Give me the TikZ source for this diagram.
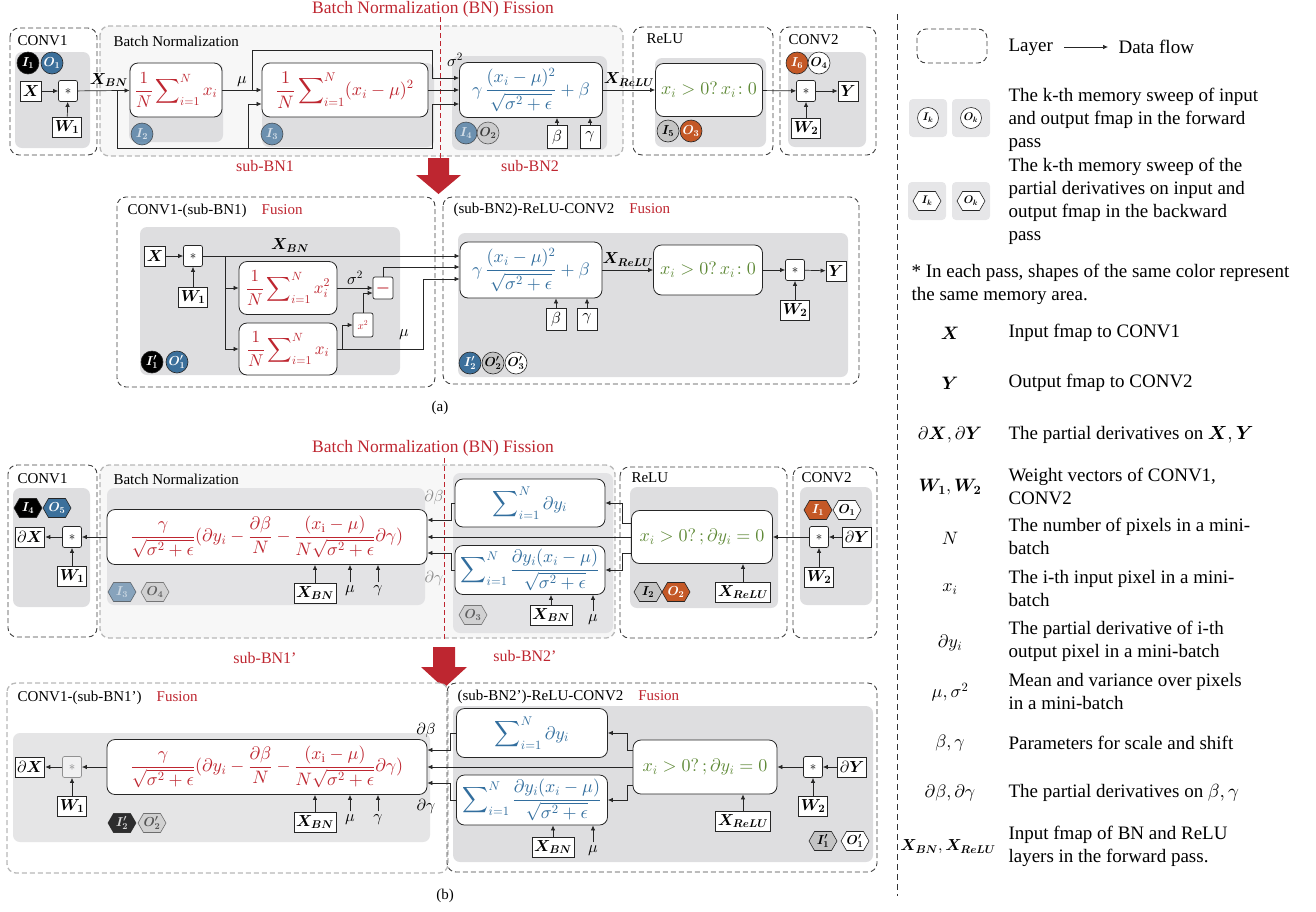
\documentclass[tikz,border=0pt]{standalone}
\usepackage{amsmath}
\usepackage{bm}
\usepackage{fontspec}
\setmainfont{Liberation Serif}
\DeclareFontShape{OML}{cmm}{m}{it}{<->cmmi10}{}
\DeclareFontShape{OML}{cmm}{b}{it}{<->cmmib10}{}
\DeclareFontShape{OMS}{cmsy}{m}{n}{<->cmsy10}{}
\DeclareFontShape{OMS}{cmsy}{b}{n}{<->cmbsy10}{}
\DeclareFontShape{OMX}{cmex}{m}{n}{<->cmex10}{}
\DeclareFontShape{OT1}{cmr}{m}{n}{<->cmr10}{}
\DeclareFontShape{OT1}{cmr}{bx}{n}{<->cmbx10}{}
\usepackage{tikz}
\usetikzlibrary{positioning,arrows.meta,calc,shapes.symbols}
\definecolor{FisRed}{RGB}{190,38,48}
\definecolor{EqBlue}{RGB}{50,110,158}
\definecolor{EqGreen}{RGB}{96,138,56}
\definecolor{MemBlue}{RGB}{60,112,155}
\definecolor{MemOrange}{RGB}{196,88,38}
\definecolor{MemGray}{RGB}{196,196,196}
\definecolor{PanelGray}{RGB}{222,222,224}

\begin{document}
\begin{tikzpicture}[
  x=1pt,y=-1pt,
  font=\fontsize{15}{17}\selectfont,
  layerbox/.style={draw=black!75,line width=0.9pt,dash pattern=on 5pt off 3pt,rounded corners=9pt},
  fadelayer/.style={draw=black!28,fill=black!3,line width=1.3pt,dash pattern=on 5pt off 3pt,rounded corners=9pt},
  panel/.style={fill=PanelGray,rounded corners=7pt},
  eqbox/.style={draw=black!85,fill=white,line width=0.8pt,rounded corners=8pt,inner sep=1pt,font=\fontsize{18}{21}\selectfont},
  opbox/.style={draw=black!85,fill=white,line width=0.7pt,rounded corners=2pt,minimum width=19pt,minimum height=21pt,inner sep=0pt,font=\fontsize{13}{15}\selectfont},
  varbox/.style={draw=black!85,fill=white,line width=0.8pt,inner sep=2pt,minimum height=20pt,minimum width=20pt,font=\fontsize{16}{18}\selectfont},
  arr/.style={-{Latex[length=5pt,width=4.5pt]},line width=0.7pt,draw=black!85},
  mem/.style={circle,draw=black!85,line width=0.6pt,minimum size=22pt,inner sep=0pt,font=\fontsize{13}{15}\selectfont},
  hexmem/.style={signal,signal to=east and west,signal pointer angle=120,draw=black!85,line width=0.6pt,minimum width=28pt,minimum height=19pt,inner sep=0pt,font=\fontsize{13}{15}\selectfont},
  fislabel/.style={text=FisRed,font=\fontsize{17.5}{20}\selectfont},
  sublabel/.style={text=FisRed,font=\fontsize{16}{18}\selectfont},
  lbl/.style={font=\fontsize{16}{18}\selectfont},
  lgtext/.style={anchor=west,align=left,font=\fontsize{19}{23}\selectfont},
  lgsym/.style={font=\fontsize{18}{23}\selectfont}
]
\useasboundingbox (0,0) rectangle (1316,911);

% (a) forward pass
\node[fislabel] (fisa) at (433,9) {Batch Normalization (BN) Fission};
\draw[fadelayer] (100,26) rectangle (623,156);
\node[anchor=west] (bna) at (110,41) {Batch Normalization};
\path[panel] (129,63) rectangle (223,142);
\path[panel] (262,63) rectangle (434,147);
\path[panel] (452,56) rectangle (607,150);
\draw[FisRed,line width=0.9pt,dash pattern=on 5pt off 3pt] (440,17) -- (440,160);

\draw[layerbox] (10,28) rectangle (97,155);
\node[anchor=west] (conv1a) at (14,41) {CONV1};
\path[panel] (15,52) rectangle (90,148);
\node[mem,fill=black,text=white] (i1a) at (28,63) {$\bm{I_1}$};
\node[mem,fill=MemBlue,text=white] (o1a) at (52,63) {$\bm{O_1}$};
\node[varbox] (xa) at (31,91) {$\bm{X}$};
\node[opbox] (mula) at (68,91) {$*$};
\node[varbox] (w1a) at (67,127) {$\bm{W_1}$};

\node[eqbox,text=FisRed,minimum width=92pt,minimum height=54pt,font=\fontsize{17}{20}\selectfont] (meana) at (176,90) {$\displaystyle\frac{1}{N}\sum\nolimits_{i=1}^{N}x_i$};
\node[eqbox,text=FisRed,minimum width=166pt,minimum height=54pt] (vara) at (345,90) {$\displaystyle\frac{1}{N}\sum\nolimits_{i=1}^{N}(x_i-\mu)^2$};
\node[eqbox,text=EqBlue,minimum width=143pt,minimum height=55pt] (norma) at (531,90) {$\displaystyle\gamma\,\frac{(x_i-\mu)^2}{\sqrt{\sigma^2+\epsilon}}+\beta$};
\node[mem,fill=MemBlue,text=white,opacity=0.7] (i2a) at (142,134) {$\bm{I_2}$};
\node[mem,fill=MemBlue,text=white,opacity=0.7] (i3a) at (272,134) {$\bm{I_3}$};
\node[mem,fill=MemBlue,text=white,opacity=0.7] (i4a) at (466,133) {$\bm{I_4}$};
\node[mem,fill=MemGray,opacity=0.7] (o2a) at (488,133) {$\bm{O_2}$};
\node[varbox,minimum height=23pt] (betaa) at (557,137) {$\beta$};
\node[varbox,minimum height=23pt] (gama) at (590,137) {$\gamma$};

\draw[layerbox] (633,27) rectangle (773,155);
\node[anchor=west] (relulaba) at (643,39) {ReLU};
\path[panel] (655,58) rectangle (766,147);
\node[eqbox,text=EqGreen,minimum width=107pt,minimum height=53pt] (relua) at (709,90) {$x_i>0?\,x_i\!:0$};
\node[mem,fill=MemGray] (i5a) at (668,131) {$\bm{I_5}$};
\node[mem,fill=MemOrange,text=white] (o3a) at (691,131) {$\bm{O_3}$};

\draw[layerbox] (780,27) rectangle (876,155);
\node[anchor=west] (conv2a) at (785,40) {CONV2};
\path[panel] (788,52) rectangle (866,147);
\node[mem,fill=MemOrange,text=white] (i6a) at (797,63) {$\bm{I_6}$};
\node[mem,fill=white] (o4a) at (819,63) {$\bm{O_4}$};
\node[opbox] (mul2a) at (806,91) {$*$};
\node[varbox] (ya) at (848,91) {$\bm{Y}$};
\node[varbox] (w2a) at (806,128) {$\bm{W_2}$};

\draw[arr] (xa) -- (mula);
\draw[arr] (w1a) -- (mula);
\draw[arr] (mula) -- node[lbl,above,pos=0.6] (xbnlaba) {$\bm{X_{BN}}$} (meana);
\draw[arr] (meana) -- node[lbl,above] (mulaba) {$\mu$} (vara);
\draw[arr] (vara) -- (norma);
\node[lbl] (siglaba) at (455,60) {$\sigma^2$};
\draw[arr] (117,91) |- (248,148) |- (vara.west |- 0,104);
\draw[arr] (248,148) -- (432,148) |- (norma.west |- 0,104);
\draw[arr] (252,90) |- (432,50) |- (norma.west |- 0,78);
\draw[arr] (norma) -- node[lbl,above] (xrelulaba) {$\bm{X_{ReLU}}$} (relua);
\draw[arr] (relua) -- (mul2a);
\draw[arr] (mul2a) -- (ya);
\draw[arr] (w2a) -- (mul2a);
\draw[arr] (betaa) -- (betaa |- norma.south);
\draw[arr] (gama) -- (gama |- norma.south);

\node[sublabel] (subbn1) at (265,166) {sub-BN1};
\node[sublabel] (subbn2) at (530,166) {sub-BN2};
\fill[FisRed] (428,158) -- (449,158) -- (449,175) -- (461,175) -- (438.5,194) -- (416,175) -- (428,175) -- cycle;

% (a) fused layers
\draw[layerbox] (117,197) rectangle (435,387);
\node[anchor=west] (fuse1a) at (124,211) {CONV1-(sub-BN1)\quad\textcolor{FisRed}{Fusion}};
\path[panel] (140,227) rectangle (400,375);
\node[varbox] (xb) at (155,256) {$\bm{X}$};
\node[opbox] (mulb) at (193,256) {$*$};
\node[varbox] (w1b) at (193,297) {$\bm{W_1}$};
\node[eqbox,text=FisRed,minimum width=98pt,minimum height=53pt,font=\fontsize{17}{20}\selectfont] (sqb) at (288,288) {$\displaystyle\frac{1}{N}\sum\nolimits_{i=1}^{N}x_i^2$};
\node[eqbox,text=FisRed,minimum width=98pt,minimum height=52pt,font=\fontsize{17}{20}\selectfont] (meanb) at (288,349) {$\displaystyle\frac{1}{N}\sum\nolimits_{i=1}^{N}x_i$};
\node[opbox,text=FisRed,minimum width=20pt,minimum height=24pt,font=\fontsize{11}{13}\selectfont] (sqrb) at (363,325) {$x^2$};
\node[opbox,text=FisRed,minimum width=20pt,minimum height=22pt,font=\fontsize{16}{18}\selectfont] (minusb) at (383,288) {$\bm{-}$};
\node[mem,fill=black,text=white] (i1pb) at (152,362) {$\bm{I'_1}$};
\node[mem,fill=MemBlue,text=white] (o1pb) at (177,362) {$\bm{O'_1}$};

\draw[layerbox] (443,197) rectangle (859,384);
\node[anchor=west] (fuse2a) at (450,210) {(sub-BN2)-ReLU-CONV2\quad\textcolor{FisRed}{Fusion}};
\path[panel] (458,233) rectangle (848,377);
\node[eqbox,text=EqBlue,minimum width=142pt,minimum height=56pt] (gammab) at (531,270) {$\displaystyle\gamma\,\frac{(x_i-\mu)^2}{\sqrt{\sigma^2+\epsilon}}+\beta$};
\node[varbox,minimum height=22pt] (betab) at (556,319) {$\beta$};
\node[varbox,minimum height=22pt] (gamb) at (587,319) {$\gamma$};
\node[eqbox,text=EqGreen,minimum width=109pt,minimum height=50pt] (relub) at (708,270) {$x_i>0?\,x_i\!:0$};
\node[opbox] (mulc) at (795,270) {$*$};
\node[varbox] (yb) at (836,271) {$\bm{Y}$};
\node[varbox] (w2b) at (795,310) {$\bm{W_2}$};
\node[mem,fill=MemBlue,text=white] (i2pb) at (470,363) {$\bm{I'_2}$};
\node[mem,fill=MemGray] (o2pb) at (493,363) {$\bm{O'_2}$};
\node[mem,fill=white] (o3pb) at (516,363) {$\bm{O'_3}$};

\draw[arr] (xb) -- (mulb);
\draw[arr] (w1b) -- (mulb);
\draw[arr] (mulb) -- node[lbl,above,pos=0.34] (xbnlabb) {$\bm{X_{BN}}$} (gammab.west |- mulb);
\draw[arr] (225,256) |- (sqb);
\draw[arr] (225,256) |- (meanb);
\draw[arr] (sqb) -- node[lbl,above] (siglabb) {$\sigma^2$} (minusb);
\draw[arr] (342,349) |- (sqrb);
\draw[arr] (sqrb) |- ($(minusb.west)+(0,5)$);
\draw[arr] (minusb) |- (gammab.west |- 0,267);
\draw[arr] (meanb) -- (423,349) |- (gammab.west |- 0,279);
\node[lbl] (mulabb) at (404,335) {$\mu$};
\draw[arr] (gammab) -- node[lbl,above] (xrelulabb) {$\bm{X_{ReLU}}$} (relub);
\draw[arr] (relub) -- (mulc);
\draw[arr] (mulc) -- (yb);
\draw[arr] (w2b) -- (mulc);
\draw[arr] (betab) -- (betab |- gammab.south);
\draw[arr] (gamb) -- (gamb |- gammab.south);

\node (capa) at (440,408) {(a)};

% (b) backward pass
\node[fislabel] (fisb) at (433,448) {Batch Normalization (BN) Fission};
\draw[fadelayer] (100,465) rectangle (615,638);
\node[anchor=west] (bnb) at (110,479) {Batch Normalization};
\path[panel,fill=PanelGray!85] (107,488) rectangle (425,605);
\path[panel,fill=PanelGray!85] (453,473) rectangle (613,633);
\draw[FisRed,line width=0.9pt,dash pattern=on 5pt off 3pt] (444,458) -- (444,641);

\draw[layerbox] (8,465) rectangle (97,637);
\node[anchor=west] (conv1b) at (14,479) {CONV1};
\path[panel] (13,488) rectangle (90,607);
\node[hexmem,fill=black,text=white] (i4b) at (28,508) {$\bm{I_4}$};
\node[hexmem,fill=MemBlue,text=white] (o5b) at (57,508) {$\bm{O_5}$};
\node[varbox] (dxb) at (30,537) {$\partial\bm{X}$};
\node[opbox] (mulbb) at (72,537) {$*$};
\node[varbox] (w1bb) at (72,576) {$\bm{W_1}$};

\node[eqbox,text=FisRed,minimum width=320pt,minimum height=55pt] (gradbn) at (267,537) {$\displaystyle\frac{\gamma}{\sqrt{\sigma^2+\epsilon}}(\partial y_i-\frac{\partial\beta}{N}-\frac{(x_{\mathrm{i}}-\mu)}{N\sqrt{\sigma^2+\epsilon}}\partial\gamma)$};
\node[varbox] (xbnc) at (315,593) {$\bm{X_{BN}}$};
\node[lbl] (muc) at (350,591) {$\mu$};
\node[lbl] (gamc) at (378,591) {$\gamma$};
\node[lbl,text=black!45] (dbetac) at (434,497) {$\partial\beta$};
\node[lbl,text=black!45] (dgamc) at (434,578) {$\partial\gamma$};
\node[hexmem,fill=MemBlue,text=white,opacity=0.55] (i3b) at (122,592) {$\bm{I_3}$};
\node[hexmem,fill=MemGray,opacity=0.55] (o4b) at (155,592) {$\bm{O_4}$};
\node[eqbox,text=EqBlue,minimum width=150pt,minimum height=48pt] (sumdyb) at (530,503) {$\displaystyle\sum\nolimits_{i=1}^{N}\partial y_i$};
\node[eqbox,text=EqBlue,minimum width=150pt,minimum height=49pt] (sumdxb) at (530,570) {$\displaystyle\sum\nolimits_{i=1}^{N}\frac{\partial y_i(x_i-\mu)}{\sqrt{\sigma^2+\epsilon}}$};
\node[varbox] (xbnd) at (551,615) {$\bm{X_{BN}}$};
\node[lbl] (mud) at (593,620) {$\mu$};
\node[hexmem,fill=MemGray,opacity=0.55] (o3b) at (473,615) {$\bm{O_3}$};

\draw[layerbox] (620,467) rectangle (787,638);
\node[anchor=west] (relulabb) at (628,478) {ReLU};
\path[panel] (630,487) rectangle (778,608);
\node[eqbox,text=EqGreen,minimum width=141pt,minimum height=53pt] (relug) at (702,537) {$x_i>0?\,;\partial y_i=0$};
\node[varbox] (xreluc) at (743,592) {$\bm{X_{ReLU}}$};
\node[hexmem,fill=MemGray] (i2b) at (648,592) {$\bm{I_2}$};
\node[hexmem,fill=MemOrange,text=white] (o2b) at (676,592) {$\bm{O_2}$};

\draw[layerbox] (793,467) rectangle (877,638);
\node[anchor=west] (conv2b) at (798,478) {CONV2};
\path[panel] (800,487) rectangle (872,605);
\node[hexmem,fill=MemOrange,text=white] (i1b) at (818,510) {$\bm{I_1}$};
\node[hexmem,fill=white] (o1b) at (847,510) {$\bm{O_1}$};
\node[opbox] (mulcc) at (819,537) {$*$};
\node[varbox] (dyc) at (857,537) {$\partial\bm{Y}$};
\node[varbox] (w2c) at (819,577) {$\bm{W_2}$};

\draw[arr] (dyc) -- (mulcc);
\draw[arr] (w2c) -- (mulcc);
\draw[arr] (mulcc) -- (relug);
\draw[arr] (xreluc) -- (xreluc |- relug.south);
\draw[arr] (relug.west |- 0,523) -- (622,523) |- (sumdyb);
\draw[arr] (relug.west |- 0,553) -- (622,553) |- (sumdxb);
\draw[arr] (relug) -- (gradbn);
\draw[arr] (sumdyb) -- (451,503) |- (gradbn.east |- 0,520);
\draw[arr] (sumdxb) -- (451,570) |- (gradbn.east |- 0,553);
\draw[arr] (xbnd) -- (xbnd |- sumdxb.south);
\draw[arr] (mud) -- (mud |- sumdxb.south);
\draw[arr] (xbnc) -- (xbnc |- gradbn.south);
\draw[arr] (muc) -- (muc |- gradbn.south);
\draw[arr] (gamc) -- (gamc |- gradbn.south);
\draw[arr] (gradbn) -- (mulbb);
\draw[arr] (mulbb) -- (dxb);
\draw[arr] (w1bb) -- (mulbb);

\node[sublabel] (subbn1p) at (265,658) {sub-BN1’};
\node[sublabel] (subbn2p) at (525,656) {sub-BN2’};
\fill[FisRed] (433,647) -- (455,647) -- (455,667) -- (467,667) -- (444,688) -- (421,667) -- (433,667) -- cycle;

% (b) fused layers
\draw[fadelayer,fill=white] (7,683) rectangle (448,873);
\node[anchor=west] (fuse1b) at (14,698) {CONV1-(sub-BN1’)\quad\textcolor{FisRed}{Fusion}};
\path[panel,fill=PanelGray!80] (13,733) rectangle (430,842);
\node[varbox] (dxc) at (30,767) {$\partial\bm{X}$};
\node[opbox,opacity=0.45] (mulbc) at (72,767) {$*$};
\node[varbox] (w1bc) at (72,806) {$\bm{W_1}$};
\node[eqbox,text=FisRed,minimum width=320pt,minimum height=55pt] (gradbc) at (267,767) {$\displaystyle\frac{\gamma}{\sqrt{\sigma^2+\epsilon}}(\partial y_i-\frac{\partial\beta}{N}-\frac{(x_{\mathrm{i}}-\mu)}{N\sqrt{\sigma^2+\epsilon}}\partial\gamma)$};
\node[varbox] (xbne) at (315,822) {$\bm{X_{BN}}$};
\node[lbl] (mue) at (350,820) {$\mu$};
\node[lbl] (game) at (378,820) {$\gamma$};
\node[lbl] (dbetae) at (426,730) {$\partial\beta$};
\node[lbl] (dgame) at (426,806) {$\partial\gamma$};
\node[hexmem,fill=black,text=white,opacity=0.8] (i2pe) at (122,823) {$\bm{I'_2}$};
\node[hexmem,fill=MemGray,opacity=0.6] (o2pe) at (152,823) {$\bm{O'_2}$};

\draw[layerbox] (447,683) rectangle (877,872);
\node[anchor=west] (fuse2b) at (454,697) {(sub-BN2’)-ReLU-CONV2\quad\textcolor{FisRed}{Fusion}};
\path[panel] (453,706) rectangle (873,862);
\node[eqbox,text=EqBlue,minimum width=151pt,minimum height=49pt] (sumdye) at (532,733) {$\displaystyle\sum\nolimits_{i=1}^{N}\partial y_i$};
\node[eqbox,text=EqBlue,minimum width=151pt,minimum height=50pt] (sumdxe) at (532,800) {$\displaystyle\sum\nolimits_{i=1}^{N}\frac{\partial y_i(x_i-\mu)}{\sqrt{\sigma^2+\epsilon}}$};
\node[eqbox,text=EqGreen,minimum width=144pt,minimum height=54pt] (relue) at (705,767) {$x_i>0?\,;\partial y_i=0$};
\node[opbox] (mule) at (813,767) {$*$};
\node[varbox] (dye) at (852,767) {$\partial\bm{Y}$};
\node[varbox] (w2e) at (813,806) {$\bm{W_2}$};
\node[varbox] (xrelue) at (743,821) {$\bm{X_{ReLU}}$};
\node[varbox] (xbnf) at (553,847) {$\bm{X_{BN}}$};
\node[lbl] (muf) at (593,851) {$\mu$};
\node[hexmem,fill=MemGray] (i1pe) at (823,841) {$\bm{I'_1}$};
\node[hexmem,fill=white] (o1pe) at (855,841) {$\bm{O'_1}$};

\draw[arr] (dye) -- (mule);
\draw[arr] (w2e) -- (mule);
\draw[arr] (mule) -- (relue);
\draw[arr] (xrelue) -- (xrelue |- relue.south);
\draw[arr] (relue.west |- 0,750) -- (627,750) |- (sumdye);
\draw[arr] (relue.west |- 0,785) -- (627,785) |- (sumdxe);
\draw[arr] (relue) -- (gradbc);
\draw[arr] (sumdye) -- (450,733) |- (gradbc.east |- 0,750);
\draw[arr] (sumdxe) -- (450,800) |- (gradbc.east |- 0,783);
\draw[arr] (xbnf) -- (xbnf |- sumdxe.south);
\draw[arr] (muf) -- (muf |- sumdxe.south);
\draw[arr] (xbne) -- (xbne |- gradbc.south);
\draw[arr] (mue) -- (mue |- gradbc.south);
\draw[arr] (game) -- (game |- gradbc.south);
\draw[arr] (gradbc) -- (mulbc);
\draw[arr] (mulbc) -- (dxc);
\draw[arr] (w1bc) -- (mulbc);

\node (capb) at (445,896) {(b)};

% legend
\draw[black!80,line width=0.9pt,dash pattern=on 6pt off 4pt] (897,14) -- (897,896);
\draw[layerbox] (917,29) rectangle (987,63);
\node[lgtext] (lglayer) at (1005,47) {Layer};
\node[lgtext] (lgflow) at (1115,47) {Data flow};
\draw[arr,shorten <=8pt,shorten >=7pt] (lglayer) -- (lgflow);

\node[fill=PanelGray!75,rounded corners=4pt,minimum size=38pt] (lgsqi) at (928,118) {};
\node[fill=PanelGray!75,rounded corners=4pt,minimum size=38pt] (lgsqo) at (971,118) {};
\node[mem,fill=white,minimum size=21pt,font=\fontsize{11}{13}\selectfont] (lgmemi) at (lgsqi) {$\bm{I_k}$};
\node[mem,fill=white,minimum size=21pt,font=\fontsize{11}{13}\selectfont] (lgmemo) at (lgsqo) {$\bm{O_k}$};
\node[lgtext] (lgfwd) at (1005,120) {The k-th memory sweep of input\\and output fmap in the forward\\pass};

\node[fill=PanelGray!75,rounded corners=4pt,minimum size=38pt] (lgsqhi) at (927,201) {};
\node[fill=PanelGray!75,rounded corners=4pt,minimum size=38pt] (lgsqho) at (971,201) {};
\node[hexmem,fill=white,minimum width=28pt,font=\fontsize{11}{13}\selectfont] (lghexi) at (lgsqhi) {$\bm{I_k}$};
\node[hexmem,fill=white,minimum width=28pt,font=\fontsize{11}{13}\selectfont] (lghexo) at (lgsqho) {$\bm{O_k}$};
\node[lgtext] (lgbwd) at (1005,201) {The k-th memory sweep of the\\partial derivatives on input and\\output fmap in the backward\\pass};

\node[lgtext] (lgnote) at (908,284) {* In each pass, shapes of the same color represent\\the same memory area.};

\node[lgsym] (lgsx) at (950,333) {$\bm{X}$};
\node[lgtext] (lgdx) at (1005,333) {Input fmap to CONV1};
\node[lgsym] (lgsy) at (950,383) {$\bm{Y}$};
\node[lgtext] (lgdy) at (1005,383) {Output fmap to CONV2};
\node[lgsym] (lgsd) at (950,435) {$\partial\bm{X},\partial\bm{Y}$};
\node[lgtext] (lgdd) at (1005,435) {The partial derivatives on $\bm{X},\bm{Y}$};
\node[lgsym] (lgsw) at (950,487) {$\bm{W_1},\bm{W_2}$};
\node[lgtext] (lgdw) at (1005,486) {Weight vectors of CONV1,\\CONV2};
\node[lgsym] (lgsn) at (950,538) {$N$};
\node[lgtext] (lgdn) at (1005,536) {The number of pixels in a mini-\\batch};
\node[lgsym] (lgsxi) at (950,589) {$x_i$};
\node[lgtext] (lgdxi) at (1005,588) {The i-th input pixel in a mini-\\batch};
\node[lgsym] (lgsdy) at (950,643) {$\partial y_i$};
\node[lgtext] (lgddy) at (1005,641) {The partial derivative of i-th\\output pixel in a mini-batch};
\node[lgsym] (lgsmu) at (950,692) {$\mu,\sigma^2$};
\node[lgtext] (lgdmu) at (1005,691) {Mean and variance over pixels\\in a mini-batch};
\node[lgsym] (lgsbg) at (950,743) {$\beta,\gamma$};
\node[lgtext] (lgdbg) at (1005,743) {Parameters for scale and shift};
\node[lgsym] (lgsdbg) at (950,793) {$\partial\beta,\partial\gamma$};
\node[lgtext] (lgddbg) at (1005,793) {The partial derivatives on $\beta,\gamma$};
\node[lgsym,font=\fontsize{16}{20}\selectfont] (lgsxx) at (948,847) {$\bm{X_{BN}},\bm{X_{ReLU}}$};
\node[lgtext] (lgdxx) at (1005,846) {Input fmap of BN and ReLU\\layers in the forward pass.};
\end{tikzpicture}
\end{document}
